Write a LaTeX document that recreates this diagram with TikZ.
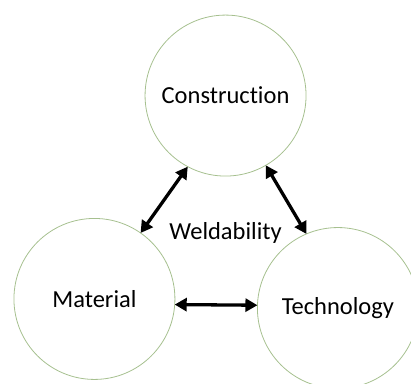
\documentclass[tikz,border=0pt]{standalone}
\usepackage{fontspec}
\setmainfont{Carlito}[Ligatures=NoCommon]
\usepackage{tikz}
\usetikzlibrary{arrows.meta,positioning}
\definecolor{rimgreen}{RGB}{166,192,143}
\tikzset{
    factor/.style={draw=rimgreen, line width=0.8pt, circle, minimum size=5.66cm, inner sep=0pt, outer sep=0pt, font=\fontsize{24.5}{29}\selectfont},
    label/.style={font=\fontsize{24.5}{29}\selectfont},
    link/.style={{Triangle[length=12pt, width=13pt]}-{Triangle[length=12pt, width=13pt]}, line width=3.3pt, black}
}

\begin{document}
\begin{tikzpicture}[on grid]
\useasboundingbox (-7.93,3.36) rectangle (6.52,-10.11);
\node[factor] (C) {Construction};
\node[factor, below left=7.15cm and 4.61cm of C] (M) {Material};
\node[factor, below right=7.47cm and 3.95cm of C] (T) {Technology};
\node[label, below=4.83cm of C] (W) {Weldability};

\draw[link] (M.55) -- (C.242);
\draw[link] (C.300) -- (T.113);
\draw[link] (M.-4) -- (T.178);
\end{tikzpicture}
\end{document}
